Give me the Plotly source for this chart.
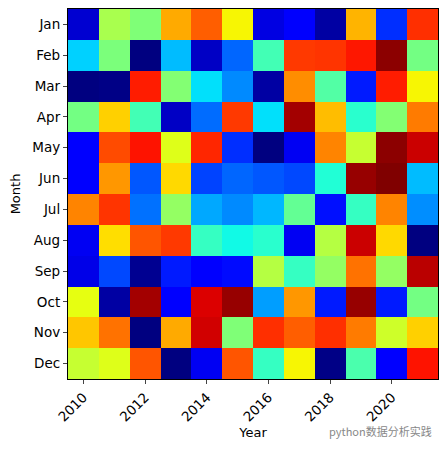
import numpy as np
import plotly.graph_objects as go

years = list(range(2010, 2022))
months = ["Jan", "Feb", "Mar", "Apr", "May", "Jun",
          "Jul", "Aug", "Sep", "Oct", "Nov", "Dec"]

jan = [0.07, 0.555, 0.505, 0.73, 0.81, 0.65, 0.085, 0.115, 0.03, 0.72, 0.17, 0.86]
feb = [0.33, 0.50, 0.00, 0.31, 0.06, 0.225, 0.43, 0.85, 0.855, 0.885, 0.99, 0.49]
mar = [0.00, 0.005, 0.88, 0.51, 0.345, 0.26, 0.03, 0.76, 0.45, 0.15, 0.88, 0.65]
apr = [0.49, 0.69, 0.43, 0.06, 0.23, 0.85, 0.345, 0.97, 0.71, 0.40, 0.51, 0.78]
may = [0.12, 0.83, 0.89, 0.62, 0.87, 0.17, 0.00, 0.10, 0.77, 0.59, 0.99, 0.935]
jun = [0.12, 0.75, 0.21, 0.68, 0.19, 0.225, 0.21, 0.195, 0.39, 0.98, 1.00, 0.31]
jul = [0.77, 0.855, 0.235, 0.53, 0.29, 0.26, 0.305, 0.47, 0.14, 0.415, 0.77, 0.265]
aug = [0.10, 0.675, 0.82, 0.85, 0.415, 0.37, 0.40, 0.10, 0.57, 0.935, 0.68, 0.00]
sep = [0.09, 0.195, 0.015, 0.15, 0.12, 0.135, 0.57, 0.415, 0.53, 0.79, 0.53, 0.95]
oct_ = [0.63, 0.03, 0.97, 0.12, 0.92, 0.98, 0.28, 0.75, 0.15, 0.98, 0.15, 0.49]
nov = [0.70, 0.79, 0.00, 0.73, 0.93, 0.505, 0.86, 0.81, 0.86, 0.78, 0.60, 0.69]
dec = [0.59, 0.62, 0.82, 0.00, 0.10, 0.82, 0.415, 0.65, 0.005, 0.44, 0.12, 0.89]

values = [jan, feb, mar, apr, may, jun, jul, aug, sep, oct_, nov, dec]

tick_years = [2010, 2012, 2014, 2016, 2018, 2020]


# ── matplotlib-style jet colourscale ────────────────────────────────────────
def _seg(x, pts):
    xs, ys = zip(*pts)
    return float(np.interp(x, xs, ys))


_R = [(0, 0), (0.35, 0), (0.66, 1), (0.89, 1), (1, 0.5)]
_G = [(0, 0), (0.125, 0), (0.375, 1), (0.64, 1), (0.91, 0), (1, 0)]
_B = [(0, 0.5), (0.11, 1), (0.34, 1), (0.65, 0), (1, 0)]

jet = []
for s in np.linspace(0, 1, 65):
    r, g, b = (int(round(255 * _seg(s, c))) for c in (_R, _G, _B))
    jet.append([float(s), f"rgb({r},{g},{b})"])

_FONT = "DejaVu Sans, sans-serif"

fig = go.Figure(
    go.Heatmap(
        z=values,
        x=years,
        y=months,
        colorscale=jet,
        zmin=0,
        zmax=1,
        showscale=False,
    )
)

# page body has an 8px margin, so the figure is sized to fit inside it
fig.update_layout(
    width=439,
    height=445,
    paper_bgcolor="white",
    plot_bgcolor="white",
    font=dict(family=_FONT, color="black", size=13),
    margin=dict(l=60, r=9, t=1, b=74),
    annotations=[
        dict(
            text="python数据分析实践",
            x=0.988, y=-0.14, xref="paper", yref="paper",
            showarrow=False,
            font=dict(size=11, color="#888888",
                      family="Noto Sans CJK SC, sans-serif"),
            xanchor="right", yanchor="middle",
        )
    ],
)

fig.update_xaxes(
    title_text="Year",
    title_standoff=0,
    title_font_size=13,
    tickfont_size=13.5,
    tickvals=tick_years,
    tickangle=-45,
    range=[2009.5, 2021.5],
    ticks="outside",
    ticklen=4,
    showline=True,
    linecolor="black",
    linewidth=1.2,
    mirror=True,
    showgrid=False,
    zeroline=False,
)
fig.update_yaxes(
    title_text="Month",
    title_standoff=10,
    title_font_size=13,
    tickfont_size=13.5,
    autorange="reversed",
    ticks="outside",
    ticklen=4,
    showline=True,
    linecolor="black",
    linewidth=1.2,
    mirror=True,
    showgrid=False,
)

fig.write_html("out.html")
